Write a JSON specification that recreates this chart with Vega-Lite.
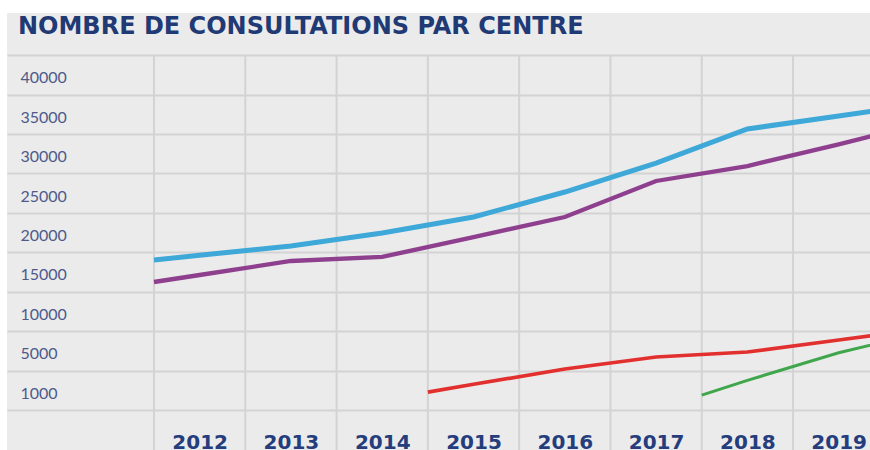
{
  "$schema": "https://vega.github.io/schema/vega-lite/v6.json",
  "width": 863,
  "height": 437,
  "autosize": {"type": "none"},
  "padding": {"left": 7, "top": 13, "right": 0, "bottom": 0},
  "background": "white",
  "config": {"view": {"fill": "#ebebeb", "stroke": null}},
  "title": {
    "text": "NOMBRE DE CONSULTATIONS PAR CENTRE",
    "anchor": "start",
    "frame": "group",
    "orient": "top",
    "offset": -45,
    "dx": 11,
    "baseline": "alphabetic",
    "font": "DejaVu Sans",
    "fontSize": 24,
    "fontWeight": "bold",
    "color": "#1f3a74"
  },
  "datasets": {
    "series": [
      {"centre": "Centre 1", "annee": 2011.5, "consultations": 16520},
      {"centre": "Centre 1", "annee": 2012, "consultations": 17120},
      {"centre": "Centre 1", "annee": 2013, "consultations": 18300},
      {"centre": "Centre 1", "annee": 2014, "consultations": 19950},
      {"centre": "Centre 1", "annee": 2015, "consultations": 21980},
      {"centre": "Centre 1", "annee": 2016, "consultations": 25150},
      {"centre": "Centre 1", "annee": 2017, "consultations": 28830},
      {"centre": "Centre 1", "annee": 2018, "consultations": 33150},
      {"centre": "Centre 1", "annee": 2019, "consultations": 34800},
      {"centre": "Centre 1", "annee": 2019.5, "consultations": 35620},
      {"centre": "Centre 2", "annee": 2011.5, "consultations": 13730},
      {"centre": "Centre 2", "annee": 2012, "consultations": 14620},
      {"centre": "Centre 2", "annee": 2013, "consultations": 16400},
      {"centre": "Centre 2", "annee": 2014, "consultations": 16910},
      {"centre": "Centre 2", "annee": 2015, "consultations": 19440},
      {"centre": "Centre 2", "annee": 2016, "consultations": 21980},
      {"centre": "Centre 2", "annee": 2017, "consultations": 26550},
      {"centre": "Centre 2", "annee": 2018, "consultations": 28450},
      {"centre": "Centre 2", "annee": 2019, "consultations": 31190},
      {"centre": "Centre 2", "annee": 2019.5, "consultations": 32640},
      {"centre": "Centre 3", "annee": 2014.5, "consultations": 800},
      {"centre": "Centre 3", "annee": 2015, "consultations": 1600},
      {"centre": "Centre 3", "annee": 2016, "consultations": 3150},
      {"centre": "Centre 3", "annee": 2017, "consultations": 4370},
      {"centre": "Centre 3", "annee": 2018, "consultations": 4880},
      {"centre": "Centre 3", "annee": 2019, "consultations": 6370},
      {"centre": "Centre 3", "annee": 2019.5, "consultations": 7130},
      {"centre": "Centre 4", "annee": 2017.5, "consultations": 500},
      {"centre": "Centre 4", "annee": 2018, "consultations": 2000},
      {"centre": "Centre 4", "annee": 2019, "consultations": 4800},
      {"centre": "Centre 4", "annee": 2019.5, "consultations": 6140}
    ],
    "grilles": [
      {"limite": 2011.5}, {"limite": 2012.5}, {"limite": 2013.5}, {"limite": 2014.5},
      {"limite": 2015.5}, {"limite": 2016.5}, {"limite": 2017.5}, {"limite": 2018.5}
    ]
  },
  "layer": [
    {
      "data": {"name": "grilles"},
      "mark": {"type": "rule", "color": "#d3d3d3", "strokeWidth": 2},
      "encoding": {
        "x": {"field": "limite", "type": "quantitative"},
        "y": {
          "datum": 42500,
          "type": "quantitative",
          "axis": {
            "orient": "right",
            "values": [-1000, 3000, 7500, 12500, 17500, 22500, 27500, 32500, 37500, 42500],
            "grid": true,
            "gridColor": "#d3d3d3",
            "gridWidth": 2,
            "labels": false,
            "ticks": false,
            "domain": false,
            "title": null
          }
        },
        "y2": {"datum": -5071}
      }
    },
    {
      "data": {"name": "series"},
      "mark": {"type": "line", "clip": true},
      "encoding": {
        "x": {
          "field": "annee",
          "type": "quantitative",
          "scale": {"domain": [2009.89, 2019.343], "nice": false, "zero": false},
          "axis": {
            "orient": "bottom",
            "values": [2012, 2013, 2014, 2015, 2016, 2017, 2018, 2019],
            "format": "d",
            "grid": false,
            "ticks": false,
            "domain": false,
            "labelPadding": -18,
            "labelBaseline": "top",
            "labelFont": "DejaVu Sans",
            "labelFontWeight": "bold",
            "labelFontSize": 20,
            "labelColor": "#253d7c",
            "labelFlush": false,
            "labelOverlap": false,
            "title": null
          }
        },
        "y": {
          "field": "consultations",
          "type": "quantitative",
          "scale": {
            "domain": [-5071, 1000, 5000, 47868],
            "range": [437, 377.2, 337.8, 0],
            "nice": false,
            "zero": false
          },
          "axis": {
            "orient": "left",
            "values": [1000, 5000, 10000, 15000, 20000, 25000, 30000, 35000, 40000],
            "format": "d",
            "grid": false,
            "ticks": false,
            "domain": false,
            "labelAlign": "left",
            "labelBaseline": "middle",
            "labelPadding": -13,
            "labelOffset": 3,
            "labelFont": "Lato",
            "labelFontSize": 16,
            "labelColor": "#4d5a8a",
            "labelFlush": false,
            "labelOverlap": false,
            "title": null
          }
        },
        "color": {
          "field": "centre",
          "type": "nominal",
          "scale": {
            "domain": ["Centre 1", "Centre 2", "Centre 3", "Centre 4"],
            "range": ["#3ea8d8", "#8e3f8e", "#e2302f", "#3fa64b"]
          },
          "legend": null
        },
        "strokeWidth": {
          "field": "centre",
          "type": "nominal",
          "scale": {
            "domain": ["Centre 1", "Centre 2", "Centre 3", "Centre 4"],
            "range": [5, 3, 3, 3]
          },
          "legend": null
        }
      }
    }
  ],
  "resolve": {"axis": {"y": "independent"}}
}
